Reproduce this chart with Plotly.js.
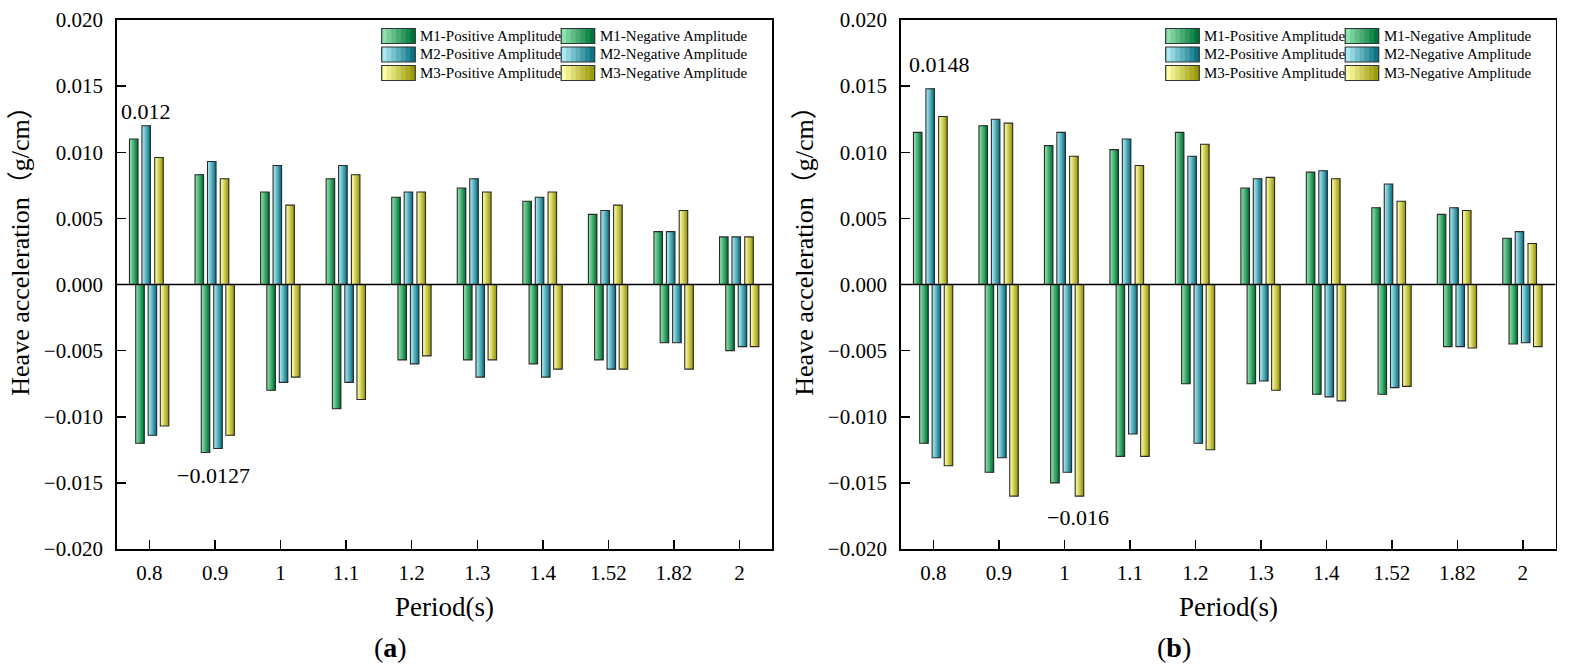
<!DOCTYPE html>
<html>
<head>
<meta charset="utf-8">
<script src="https://cdn.plot.ly/plotly-3.0.1.min.js"></script>
<style>
  html, body { margin: 0; padding: 0; background: #fff; }
  #chart { width: 1570px; height: 671px; }
</style>
</head>
<body>
<div id="chart"></div>
<script>
// periods (s)
const periods = ["0.8", "0.9", "1", "1.1", "1.2", "1.3", "1.4", "1.52", "1.82", "2"];

// panel (a)
const aM1Pos = [0.011, 0.0083, 0.007, 0.008, 0.0066, 0.0073, 0.0063, 0.0053, 0.004, 0.0036];
const aM2Pos = [0.012, 0.0093, 0.009, 0.009, 0.007, 0.008, 0.0066, 0.0056, 0.004, 0.0036];
const aM3Pos = [0.0096, 0.008, 0.006, 0.0083, 0.007, 0.007, 0.007, 0.006, 0.0056, 0.0036];
const aM1Neg = [-0.012, -0.0127, -0.008, -0.0094, -0.0057, -0.0057, -0.006, -0.0057, -0.0044, -0.005];
const aM2Neg = [-0.0114, -0.0124, -0.0074, -0.0074, -0.006, -0.007, -0.007, -0.0064, -0.0044, -0.0047];
const aM3Neg = [-0.0107, -0.0114, -0.007, -0.0087, -0.0054, -0.0057, -0.0064, -0.0064, -0.0064, -0.0047];

// panel (b)
const bM1Pos = [0.0115, 0.012, 0.0105, 0.0102, 0.0115, 0.0073, 0.0085, 0.0058, 0.0053, 0.0035];
const bM2Pos = [0.0148, 0.0125, 0.0115, 0.011, 0.0097, 0.008, 0.0086, 0.0076, 0.0058, 0.004];
const bM3Pos = [0.0127, 0.0122, 0.0097, 0.009, 0.0106, 0.0081, 0.008, 0.0063, 0.0056, 0.0031];
const bM1Neg = [-0.012, -0.0142, -0.015, -0.013, -0.0075, -0.0075, -0.0083, -0.0083, -0.0047, -0.0045];
const bM2Neg = [-0.0131, -0.0131, -0.0142, -0.0113, -0.012, -0.0073, -0.0085, -0.0078, -0.0047, -0.0044];
const bM3Neg = [-0.0137, -0.016, -0.016, -0.013, -0.0125, -0.008, -0.0088, -0.0077, -0.0048, -0.0047];

const W = 1570, H = 671;
const FONT = "Liberation Serif, serif";
const BW = 0.13;      // bar width (category units)
const NSTRIP = 7;     // strips used to fake the horizontal gradient

const green = { light: "#8fe0aa", dark: "#00773a" };
const cyan = { light: "#ace9f0", dark: "#0b7485" };
const yellow = { light: "#fdfda6", dark: "#9d9a0c" };

const series = [
  { name: "M1-Positive Amplitude", a: aM1Pos, b: bM1Pos, off: -0.305, c: green },
  { name: "M1-Negative Amplitude", a: aM1Neg, b: bM1Neg, off: -0.21, c: green },
  { name: "M2-Positive Amplitude", a: aM2Pos, b: bM2Pos, off: -0.115, c: cyan },
  { name: "M2-Negative Amplitude", a: aM2Neg, b: bM2Neg, off: -0.02, c: cyan },
  { name: "M3-Positive Amplitude", a: aM3Pos, b: bM3Pos, off: 0.08, c: yellow },
  { name: "M3-Negative Amplitude", a: aM3Neg, b: bM3Neg, off: 0.165, c: yellow }
];

function hex2rgb(h) {
  return [1, 3, 5].map(i => parseInt(h.substr(i, 2), 16));
}
function mix(c1, c2, t) {
  const a = hex2rgb(c1), b = hex2rgb(c2);
  const r = a.map((v, i) => Math.round(v + (b[i] - v) * t));
  return "rgb(" + r.join(",") + ")";
}

const traces = [];
function addSeries(values, s, xa, ya) {
  for (let k = 0; k < NSTRIP; k++) {
    traces.push({
      type: "bar", x: periods, y: values, xaxis: xa, yaxis: ya,
      offset: s.off + k * BW / NSTRIP,
      width: BW * (NSTRIP - k) / NSTRIP,
      marker: { color: mix(s.c.light, s.c.dark, k / (NSTRIP - 1)), line: { width: 0 } },
      showlegend: false, hoverinfo: "skip"
    });
  }
  // outline
  traces.push({
    type: "bar", x: periods, y: values, xaxis: xa, yaxis: ya,
    offset: s.off, width: BW, name: s.name,
    marker: { color: "rgba(0,0,0,0)", line: { color: "#2a2a2a", width: 1.1 } },
    showlegend: false
  });
}
series.forEach(s => {
  addSeries(s.a, s, "x", "y");
  addSeries(s.b, s, "x2", "y2");
});

// panel geometry in pixels
const panels = [
  { left: 116.7, right: 772.3, x: "x", y: "y", tag: "a" },
  { left: 900.7, right: 1555.5, x: "x2", y: "y2", tag: "b" }
];
const TOP = 20, BOTTOM = 549;
const px = v => v / W;
const py = v => 1 - v / H;

function xaxisDef(p) {
  return {
    domain: [px(p.left), px(p.right)], anchor: p.y,
    type: "category", range: [-0.5, 9.5],
    showline: true, mirror: true, linecolor: "#000", linewidth: 1.6,
    ticks: "inside", ticklen: 9, tickwidth: 1.5, tickcolor: "#000",
    showgrid: false, zeroline: false, automargin: false,
    ticklabelstandoff: 4,
    tickfont: { family: FONT, size: 21, color: "#000" }
  };
}
function yaxisDef(p) {
  return {
    domain: [py(BOTTOM), py(TOP)], anchor: p.x,
    range: [-0.02, 0.02], tick0: 0, dtick: 0.005, tickformat: ".3f",
    showline: true, mirror: true, linecolor: "#000", linewidth: 1.6,
    ticks: "inside", ticklen: 9, tickwidth: 1.5, tickcolor: "#000",
    showgrid: false, zeroline: false, automargin: false,
    ticklabelstandoff: 8,
    tickfont: { family: FONT, size: 21, color: "#000" }
  };
}

const shapes = [];
const annotations = [];

panels.forEach(p => {
  // zero reference line
  shapes.push({
    type: "line", xref: p.x + " domain", x0: 0, x1: 1, yref: p.y, y0: 0, y1: 0,
    line: { color: "#000", width: 1.6 }
  });

  // axis titles
  annotations.push({
    xref: "paper", yref: "paper", x: px(p.left - 97), y: py(398),
    text: "Heave acceleration（g/cm）", textangle: -90, showarrow: false,
    xanchor: "center", yanchor: "bottom",
    font: { family: FONT + ", 'Noto Sans CJK SC'", size: 26, color: "#000" }
  });
  annotations.push({
    xref: "paper", yref: "paper", x: px((p.left + p.right) / 2), y: py(607),
    text: "Period(s)", showarrow: false, xanchor: "center", yanchor: "middle",
    font: { family: FONT, size: 27, color: "#000" }
  });
  annotations.push({
    xref: "paper", yref: "paper", x: px((p.left + p.right) / 2 - 54), y: py(647),
    text: "(<b>" + p.tag + "</b>)", showarrow: false, xanchor: "center", yanchor: "middle",
    font: { family: FONT, size: 28, color: "#000" }
  });

  // legend (2 columns x 3 rows)
  const colX = [p.left + 265, p.left + 444.5];
  const rowY = [36, 54.5, 73];
  const sw = 33.5, sh = 15;
  series.forEach((s, i) => {
    const col = i % 2, row = Math.floor(i / 2);
    const sx = colX[col], sy = rowY[row];
    for (let k = 0; k < NSTRIP; k++) {
      shapes.push({
        type: "rect", xref: "paper", yref: "paper",
        x0: px(sx + k * sw / NSTRIP), x1: px(sx + sw),
        y0: py(sy - sh / 2), y1: py(sy + sh / 2),
        fillcolor: mix(s.c.light, s.c.dark, k / (NSTRIP - 1)), line: { width: 0 }
      });
    }
    shapes.push({
      type: "rect", xref: "paper", yref: "paper",
      x0: px(sx), x1: px(sx + sw), y0: py(sy - sh / 2), y1: py(sy + sh / 2),
      fillcolor: "rgba(0,0,0,0)", line: { color: "#333", width: 1.2 }
    });
    annotations.push({
      xref: "paper", yref: "paper", x: px(sx + sw + 3), y: py(sy),
      text: s.name, showarrow: false, xanchor: "left", yanchor: "middle",
      font: { family: FONT, size: 15, color: "#000" }
    });
  });
});

// value labels
const fmt = v => String(v).replace("-", "\u2212");
const valueFont = { family: FONT, size: 22, color: "#000" };
annotations.push(
  { xref: "x", yref: "y", x: -0.05, y: aM2Pos[0], text: fmt(aM2Pos[0]), showarrow: false,
    yanchor: "bottom", yshift: 0, font: valueFont },
  { xref: "x", yref: "y", x: 0.97, y: aM1Neg[1], text: fmt(aM1Neg[1]), showarrow: false,
    yanchor: "top", yshift: -9, font: valueFont },
  { xref: "x2", yref: "y2", x: 0.09, y: bM2Pos[0], text: fmt(bM2Pos[0]), showarrow: false,
    yanchor: "bottom", yshift: 10, font: valueFont },
  { xref: "x2", yref: "y2", x: 2.2, y: bM3Neg[2], text: fmt(bM3Neg[2]), showarrow: false,
    yanchor: "top", yshift: -7, font: valueFont }
);

const layout = {
  width: W, height: H,
  margin: { l: 0, r: 0, t: 0, b: 0 },
  paper_bgcolor: "#fff", plot_bgcolor: "#fff",
  barmode: "overlay",
  showlegend: false,
  xaxis: xaxisDef(panels[0]), yaxis: yaxisDef(panels[0]),
  xaxis2: xaxisDef(panels[1]), yaxis2: yaxisDef(panels[1]),
  shapes: shapes,
  annotations: annotations,
  font: { family: FONT, color: "#000" }
};

Plotly.newPlot("chart", traces, layout, { displayModeBar: false, staticPlot: true });
</script>
</body>
</html>
